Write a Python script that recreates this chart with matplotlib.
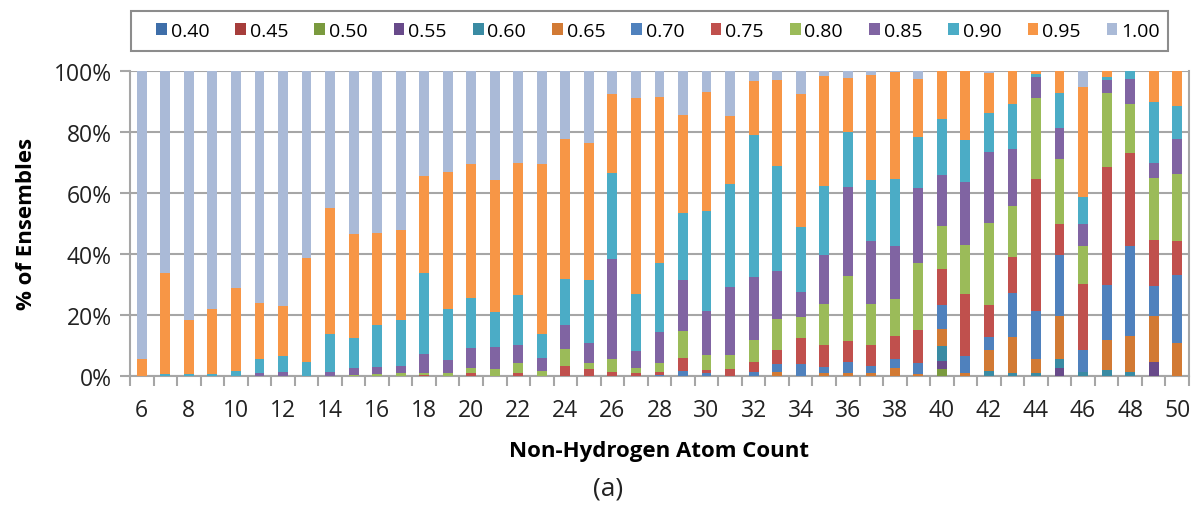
import numpy as np
import matplotlib
matplotlib.use("Agg")
import matplotlib.pyplot as plt
from matplotlib.patches import Rectangle
from matplotlib.ticker import FixedLocator, PercentFormatter

plt.rcParams['font.family'] = ['Open Sans', 'DejaVu Sans']

# non-hydrogen atom counts 6..50
atom_counts = list(range(6, 51))

# share of ensembles per similarity threshold (%), bars 6..50
s040 = [0] * 45
s045 = [0] * 45
s050 = [0, 0, 0, 0, 0,  0, 0, 0, 0, 0,  0, 0, 0, 0, 0,  0, 0, 0, 0, 0,  0, 0, 0, 0, 0,
        0, 0, 0, 0, 0,  0, 0, 0, 0, 2.4,  0, 0, 0, 0, 0,  0, 0, 0, 0, 0]
s055 = [0, 0, 0, 0, 0,  0, 0, 0, 0, 0,  0, 0, 0, 0, 0,  0, 0, 0, 0, 0,  0, 0, 0, 0, 0,
        0, 0, 0, 0, 0,  0, 0, 0, 0, 2.5,  0, 0, 0, 0, 2.7,  0, 0, 0, 4.6, 0]
s060 = [0, 0, 0, 0, 0,  0, 0, 0, 0, 0,  0, 0, 0, 0, 0,  0, 0, 0, 0, 0,  0, 0, 0, 0, 0,
        0, 0, 0, 0, 0,  0, 0, 0, 0, 4.8,  0, 1.6, 0.8, 0.8, 2.7,  1.3, 1.9, 1.3, 0, 0]
s065 = [0, 0, 0, 0, 0,  0, 0, 0, 0, 0,  0, 0, 0, 0, 0,  0, 0, 0, 0, 0,  0, 0, 0, 0, 0,
        0, 0, 1.2, 0, 0.8,  0.8, 0.8, 2.6, 0.5, 5.7,  0.8, 7.0, 11.8, 4.8, 14.3,
        0, 10.0, 11.7, 15.1, 10.8]
s070 = [0, 0, 0, 0, 0,  0, 0, 0, 0, 0,  0, 0, 0, 0, 0,  0, 0, 0, 0, 0,
        0, 0, 0.3, 1.6, 1.0,  0, 1.3, 2.8, 3.8, 2.0,  3.7, 2.6, 2.8, 3.8, 8.0,
        5.8, 4.2, 14.6, 15.7, 20.1,  7.3, 17.9, 29.6, 9.9, 22.2]
s075 = [0, 0, 0, 0, 0,  0, 0, 0, 0, 0,  0, 0, 0.3, 0, 1.0,  0, 0.8, 0, 3.1, 2.1,
        1.3, 1.0, 1.0, 4.3, 0.9,  2.1, 3.2, 4.4, 8.7, 7.2,  6.9, 6.6, 7.8, 10.7, 11.5,
        20.4, 10.4, 11.8, 43.1, 10.1,  21.5, 38.6, 30.4, 15.1, 11.2]
s080 = [0, 0, 0, 0, 0,  0, 0, 0, 0, 0.3,  0.7, 0.8, 0.5, 1.0, 1.6,  2.1, 3.5, 1.6, 5.8, 2.2,
        4.1, 1.7, 3.0, 8.9, 4.9,  4.7, 7.3, 10.4, 6.9, 13.5,  21.3, 13.7, 12.1, 22.1, 14.1,
        15.9, 26.8, 16.8, 26.8, 21.3,  12.6, 24.3, 16.1, 20.1, 22.0]
s085 = [0, 0, 0, 0, 0,  1.1, 1.2, 0, 1.2, 2.3,  2.1, 2.5, 6.3, 4.1, 6.6,  7.4, 5.7, 4.3, 7.9, 6.4,
        32.9, 5.6, 10.0, 16.6, 14.6,  22.4, 20.6, 15.7, 8.2, 16.3,  29.2, 20.5, 17.3, 24.5, 16.9,
        20.6, 23.5, 18.6, 6.7, 10.2,  7.2, 4.3, 8.2, 4.9, 11.4]
s090 = [0, 0.5, 0.5, 0.7, 1.5,  4.4, 5.4, 4.6, 12.5, 9.9,  14.0, 15.0, 26.8, 16.7, 16.5,
        11.5, 16.5, 7.8, 14.9, 20.9,  28.1, 18.6, 22.8, 21.9, 32.6,  33.7, 46.6, 34.3, 21.2, 22.5,
        18.0, 20.0, 22.0, 16.8, 18.2,  13.9, 12.6, 14.8, 1.1, 11.3,  8.9, 0.9, 2.7, 20.2, 11.0]
s095 = [5.5, 33.1, 17.9, 21.1, 27.3,  18.4, 16.3, 33.9, 41.4, 34.1,  30.1, 29.5, 31.6, 45.0, 43.9,
        43.2, 43.3, 55.7, 46.1, 44.8,  25.9, 64.3, 54.5, 32.3, 39.0,  22.4, 17.7, 28.2, 43.5, 36.1,
        17.7, 34.6, 34.9, 19.0, 15.9,  22.6, 13.3, 10.8, 1.0, 7.3,  35.8, 2.1, 0, 10.1, 11.4]
s100 = [94.5, 66.4, 81.6, 78.2, 71.2,  76.1, 77.1, 61.5, 44.9, 53.4,  53.1, 52.2, 34.5, 33.2, 30.4,
        35.8, 30.2, 30.6, 22.2, 23.6,  7.7, 8.8, 8.4, 14.4, 7.0,  14.7, 3.3, 3.0, 7.7, 1.6,
        2.4, 1.2, 0.5, 2.6, 0,  0, 0.6, 0, 0, 0,  5.4, 0, 0, 0, 0]

series_labels = ['0.40', '0.45', '0.50', '0.55', '0.60', '0.65', '0.70',
                 '0.75', '0.80', '0.85', '0.90', '0.95', '1.00']
series_values = [s040, s045, s050, s055, s060, s065, s070,
                 s075, s080, s085, s090, s095, s100]
series_colors = ['#3E6EA9', '#A63D3B', '#7A9A3E', '#684A8A', '#3A8BA3', '#D27A34', '#4F81BD',
                 '#C0504D', '#9BBB59', '#8064A2', '#4BACC6', '#F79646', '#AABAD7']

data = np.array(series_values, dtype=float)
data = data / data.sum(axis=0) * 100  # 100% stacked

W, H = 1193, 510
fig = plt.figure(figsize=(W / 100, H / 100), dpi=100)
ax = fig.add_axes([0.109, 0.261, 0.8876, 0.598])

x = np.arange(len(atom_counts))
bottom = np.zeros(len(atom_counts))
for label, vals, color in zip(series_labels, data, series_colors):
    ax.bar(x, vals, width=0.42, bottom=bottom, color=color, label=label, zorder=3)
    bottom += vals

grid_c = '#A6A6A6'
ax.set_xlim(-0.5, len(atom_counts) - 0.5)
ax.set_ylim(0, 100)
ax.yaxis.set_major_locator(FixedLocator([0, 20, 40, 60, 80, 100]))
ax.yaxis.set_major_formatter(PercentFormatter(decimals=0))
ax.grid(axis='y', color=grid_c, linewidth=1.5, zorder=0)

ax.set_xticks(x[::2])
ax.set_xticklabels([str(n) for n in atom_counts[::2]])
ax.xaxis.set_minor_locator(FixedLocator(np.arange(-0.5, len(atom_counts), 1.0)))
ax.tick_params(axis='x', which='major', length=0, pad=16, labelsize=16.5, labelcolor='#222222')
ax.tick_params(axis='x', which='minor', length=7, width=1.5, color=grid_c)
ax.tick_params(axis='y', length=7, width=1.5, color=grid_c, labelsize=16.5,
               labelcolor='#222222', pad=6)

for side in ['left', 'bottom', 'right']:
    ax.spines[side].set_color(grid_c)
    ax.spines[side].set_linewidth(1.5)
ax.spines['top'].set_visible(False)

ax.set_ylabel('% of Ensembles', fontsize=16, fontweight='bold', labelpad=12)
ax.set_xlabel('Non-Hydrogen Atom Count', fontsize=16, fontweight='bold', labelpad=13)
fig.text(608 / W, 1 - 489 / H, '(a)', ha='center', va='center', fontsize=19, color='#222222')

# legend box drawn separately, entries laid out on a fixed pitch
fig.patches.append(Rectangle((131 / W, 1 - 52 / H), (1168 - 131) / W, 40 / H,
                             transform=fig.transFigure, fill=False,
                             edgecolor='#8C8C8C', linewidth=1.5))
leg = fig.legend(loc='center left', bbox_to_anchor=(156 / W, 1 - 32 / H),
                 ncol=13, fontsize=14, frameon=False,
                 handlelength=0.55, handleheight=0.55, handletextpad=0.2,
                 columnspacing=1.34, borderpad=0, borderaxespad=0)

fig.savefig('out.png', dpi=100)
